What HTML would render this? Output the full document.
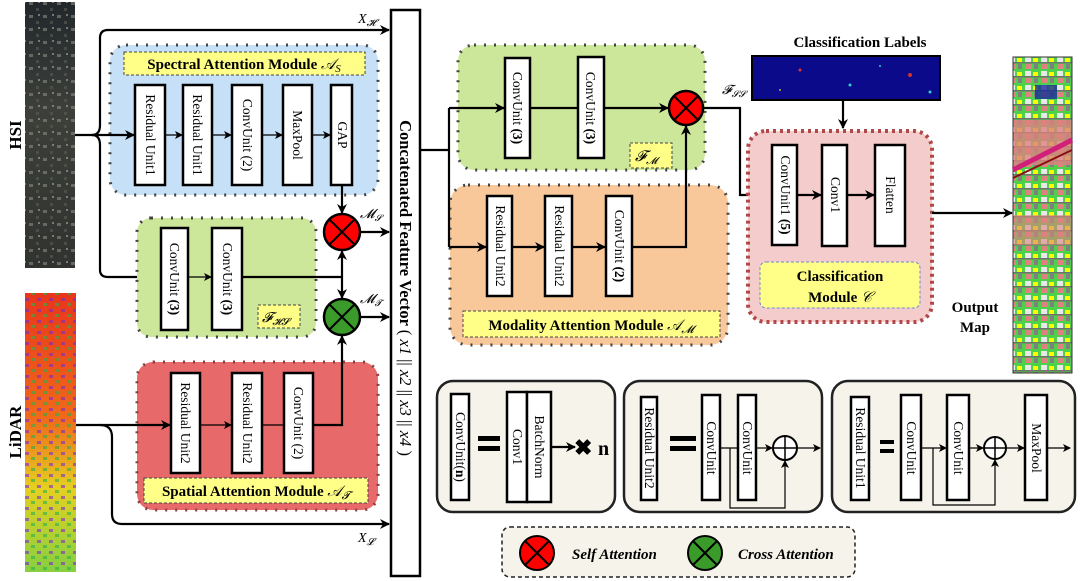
<!DOCTYPE html>
<html><head><meta charset="utf-8"><style>
html,body{margin:0;padding:0;background:#fff}
svg{display:block}
text{font-family:"Liberation Serif",serif}
.b{font-weight:bold}
.blk{fill:#fff;stroke:#000;stroke-width:2.5}
.ln{stroke:#000;stroke-width:2.2;fill:none}
.thin{stroke:#000;stroke-width:1.2;fill:none}
.vt{font-size:13.5px}
</style></head><body>
<svg width="1080" height="581" viewBox="0 0 1080 581" xmlns="http://www.w3.org/2000/svg">
<defs>
<marker id="a" markerWidth="10" markerHeight="10" refX="9" refY="5" orient="auto" markerUnits="userSpaceOnUse"><path d="M0,0 L10,5 L0,10 L3,5 z" fill="#000"/></marker>
<marker id="as" markerWidth="8" markerHeight="8" refX="7" refY="4" orient="auto" markerUnits="userSpaceOnUse"><path d="M0,0 L8,4 L0,8 L2,4 z" fill="#000"/></marker>
<linearGradient id="hsi" x1="0" y1="0" x2="0" y2="1"><stop offset="0" stop-color="#22272b"/><stop offset=".4" stop-color="#3c3f3a"/><stop offset="1" stop-color="#30332f"/></linearGradient>
<linearGradient id="lid" x1="0" y1="0" x2="0" y2="1"><stop offset="0" stop-color="#e8361c"/><stop offset=".45" stop-color="#f06a1a"/><stop offset=".7" stop-color="#e5d021"/><stop offset="1" stop-color="#86d040"/></linearGradient>
<pattern id="hp" width="14" height="13" patternUnits="userSpaceOnUse"><rect x="1" y="2" width="4" height="3" fill="#8a8a80"/><rect x="8" y="8" width="3" height="3" fill="#5a5d55"/><rect x="10" y="1" width="2" height="2" fill="#aaa"/></pattern>
<pattern id="lp" width="12" height="11" patternUnits="userSpaceOnUse"><rect x="1" y="1" width="4" height="3" fill="#7a2ad0" opacity=".6"/><rect x="7" y="6" width="4" height="3" fill="#2ab04a" opacity=".6"/></pattern>
<pattern id="op" width="16" height="14" patternUnits="userSpaceOnUse"><rect width="16" height="14" fill="#4fd04a"/><rect x="1" y="1" width="6" height="5" fill="#e8e8e8"/><rect x="9" y="2" width="5" height="4" fill="#ffff00"/><rect x="2" y="8" width="6" height="5" fill="#e08080"/><rect x="10" y="8" width="4" height="5" fill="#808080"/><rect x="0" y="6" width="16" height="1.5" fill="#707070"/></pattern>
</defs>

<!-- images -->
<rect x="25" y="2" width="50" height="266" fill="url(#hsi)"/>
<rect x="25" y="2" width="50" height="266" fill="url(#hp)" opacity=".6"/>
<rect x="25" y="293" width="51" height="279" fill="url(#lid)"/>
<rect x="25" y="293" width="51" height="279" fill="url(#lp)"/>
<text class="b" font-size="17" transform="translate(21,135) rotate(-90)" text-anchor="middle">HSI</text>
<text class="b" font-size="17" transform="translate(21,432) rotate(-90)" text-anchor="middle">LiDAR</text>

<!-- spectral module -->
<rect x="110" y="45" width="268" height="150" rx="16" fill="#c6e0f7" stroke="#444" stroke-width="3" stroke-dasharray="2,8"/>
<rect x="124" y="52" width="241" height="23" fill="#ffff88" stroke="#444" stroke-dasharray="3,2"/>
<text class="b" x="244" y="69" font-size="15" text-anchor="middle">Spectral Attention Module <tspan font-style="italic" font-weight="normal">𝒜<tspan font-size="11" dy="3">S</tspan></tspan></text>
<rect class="blk" x="135" y="85" width="30" height="100"/><text class="vt" transform="translate(146,135) rotate(90)" text-anchor="middle">Residual Unit1</text>
<rect class="blk" x="183" y="85" width="29" height="100"/><text class="vt" transform="translate(193,135) rotate(90)" text-anchor="middle">Residual Unit1</text>
<rect class="blk" x="232" y="85" width="30" height="100"/><text class="vt" transform="translate(243,135) rotate(90)" text-anchor="middle">ConvUnit (2)</text>
<rect class="blk" x="283" y="85" width="29" height="100"/><text class="vt" transform="translate(293,135) rotate(90)" text-anchor="middle">MaxPool</text>
<rect class="blk" x="331" y="85" width="21" height="100"/><text class="vt" transform="translate(338,135) rotate(90)" text-anchor="middle">GAP</text>
<line class="thin" x1="165" y1="135" x2="182" y2="135" marker-end="url(#as)"/>
<line class="thin" x1="212" y1="135" x2="231" y2="135" marker-end="url(#as)"/>
<line class="thin" x1="262" y1="135" x2="282" y2="135" marker-end="url(#as)"/>
<line class="thin" x1="312" y1="135" x2="330" y2="135" marker-end="url(#as)"/>

<!-- HSI arrows -->
<line class="ln" x1="75" y1="135" x2="134" y2="135" marker-end="url(#a)"/>
<path class="ln" d="M92,135 Q100,135 100,125 L100,38 Q100,30 108,30 L389,30" marker-end="url(#a)"/>
<path class="ln" d="M92,135 Q100,135 100,145 L100,270 Q100,277 108,277 L146,277" marker-end="url(#a)"/>
<text x="358" y="23" font-size="14" font-style="italic">X<tspan font-size="10" dy="3">𝓗</tspan></text>

<!-- green HS module -->
<rect x="137" y="218" width="179" height="119" rx="14" fill="#cce79a" stroke="#444" stroke-width="3" stroke-dasharray="2,8"/>
<rect class="blk" x="161" y="228" width="27" height="102"/><text class="vt" transform="translate(170,279) rotate(90)" text-anchor="middle">ConvUnit <tspan class="b">(3)</tspan></text>
<rect class="blk" x="212" y="228" width="30" height="102"/><text class="vt" transform="translate(223,279) rotate(90)" text-anchor="middle">ConvUnit <tspan class="b">(3)</tspan></text>
<line class="thin" x1="188" y1="277" x2="211" y2="277" marker-end="url(#as)"/>
<rect x="258" y="305" width="42" height="23" fill="#ffff88" stroke="#444" stroke-dasharray="3,2"/>
<text x="262" y="322" font-size="14" font-style="italic">𝓕<tspan font-size="10" dy="3">𝓗𝓢</tspan></text>
<path class="ln" d="M242,277 L342,277"/>
<line class="ln" x1="342" y1="277" x2="342" y2="251" marker-end="url(#a)"/>
<line class="ln" x1="342" y1="277" x2="342" y2="298" marker-end="url(#a)"/>
<line class="ln" x1="342" y1="185" x2="342" y2="213" marker-end="url(#a)"/>

<!-- circles -->
<circle cx="342" cy="232" r="18" fill="#f00" stroke="#000" stroke-width="2.5"/>
<path d="M329,219 L355,245 M355,219 L329,245" stroke="#000" stroke-width="2"/>
<circle cx="342" cy="317" r="18" fill="#3a9a2a" stroke="#000" stroke-width="2.5"/>
<path d="M329,304 L355,330 M355,304 L329,330" stroke="#000" stroke-width="2"/>
<line class="ln" x1="360" y1="232" x2="389" y2="232" marker-end="url(#a)"/>
<line class="ln" x1="360" y1="317" x2="389" y2="317" marker-end="url(#a)"/>
<text x="360" y="218" font-size="13" font-style="italic">𝓜<tspan font-size="9" dy="3">𝓢</tspan></text>
<text x="360" y="303" font-size="13" font-style="italic">𝓜<tspan font-size="9" dy="3">𝓣</tspan></text>

<!-- spatial module -->
<rect x="137" y="362" width="241" height="148" rx="16" fill="#e8696a" stroke="#8a4040" stroke-width="3" stroke-dasharray="2,8"/>
<rect class="blk" x="171" y="373" width="29" height="100"/><text class="vt" transform="translate(181,423) rotate(90)" text-anchor="middle">Residual Unit2</text>
<rect class="blk" x="232" y="373" width="30" height="100"/><text class="vt" transform="translate(243,423) rotate(90)" text-anchor="middle">Residual Unit2</text>
<rect class="blk" x="284" y="373" width="29" height="100"/><text class="vt" transform="translate(294,423) rotate(90)" text-anchor="middle">ConvUnit (2)</text>
<line class="thin" x1="200" y1="425" x2="231" y2="425" marker-end="url(#as)"/>
<line class="thin" x1="262" y1="425" x2="283" y2="425"/>
<path class="ln" d="M313,425 L342,425 L342,336" marker-end="url(#a)"/>
<rect x="144" y="478" width="224" height="25" fill="#ffff88" stroke="#444" stroke-dasharray="3,2"/>
<text class="b" x="256" y="496" font-size="15" text-anchor="middle">Spatial Attention Module <tspan font-style="italic" font-weight="normal">𝒜<tspan font-size="11" dy="3">𝓣</tspan></tspan></text>

<!-- LiDAR arrows -->
<line class="ln" x1="76" y1="425" x2="170" y2="425" marker-end="url(#a)"/>
<path class="ln" d="M100,425 Q112,425 112,437 L112,514 Q112,524 122,524 L389,524" marker-end="url(#a)"/>
<text x="358" y="542" font-size="14" font-style="italic">X<tspan font-size="10" dy="3">𝓛</tspan></text>

<!-- concat bar -->
<rect x="391" y="10" width="29" height="566" fill="#fff" stroke="#000" stroke-width="2.5"/>
<text class="b" font-size="16.5" transform="translate(400,288) rotate(90)" text-anchor="middle">Concatenated Feature Vector <tspan font-weight="normal">( <tspan font-style="italic">x1</tspan> || <tspan font-style="italic">x2</tspan> || <tspan font-style="italic">x3</tspan> || <tspan font-style="italic">x4</tspan> )</tspan></text>

<!-- modality modules -->
<rect x="458" y="45" width="247" height="125" rx="16" fill="#cce79a" stroke="#444" stroke-width="3" stroke-dasharray="2,8"/>
<rect x="450" y="185" width="278" height="160" rx="18" fill="#f9c89a" stroke="#444" stroke-width="3" stroke-dasharray="2,8"/>
<path class="ln" d="M421,150 L449,150 M449,108 L449,247"/>
<line class="ln" x1="449" y1="108" x2="504" y2="108" marker-end="url(#a)"/>
<line class="ln" x1="449" y1="247" x2="486" y2="247" marker-end="url(#a)"/>
<rect class="blk" x="505" y="58" width="25" height="100"/><text class="vt" transform="translate(513,108) rotate(90)" text-anchor="middle">ConvUnit <tspan class="b">(3)</tspan></text>
<rect class="blk" x="578" y="57" width="26" height="101"/><text class="vt" transform="translate(586,108) rotate(90)" text-anchor="middle">ConvUnit <tspan class="b">(3)</tspan></text>
<line class="ln" x1="530" y1="108" x2="577" y2="108"/>
<line class="ln" x1="604" y1="108" x2="668" y2="108" marker-end="url(#a)"/>
<circle cx="686" cy="108" r="17" fill="#f00" stroke="#000" stroke-width="2.5"/>
<path d="M674,96 L698,120 M698,96 L674,120" stroke="#000" stroke-width="2"/>
<rect x="630" y="143" width="42" height="25" fill="#ffff88" stroke="#444" stroke-dasharray="3,2"/>
<text x="635" y="161" font-size="15" font-style="italic">𝓕<tspan font-size="10" dy="3">𝓜</tspan></text>
<rect class="blk" x="487" y="196" width="25" height="100"/><text class="vt" transform="translate(496,246) rotate(90)" text-anchor="middle">Residual Unit2</text>
<rect class="blk" x="545" y="196" width="27" height="100"/><text class="vt" transform="translate(555,246) rotate(90)" text-anchor="middle">Residual Unit2</text>
<rect class="blk" x="606" y="196" width="26" height="100"/><text class="vt" transform="translate(615,246) rotate(90)" text-anchor="middle">ConvUnit <tspan class="b">(2)</tspan></text>
<line class="ln" x1="512" y1="247" x2="544" y2="247" marker-end="url(#a)"/>
<line class="ln" x1="572" y1="247" x2="605" y2="247" marker-end="url(#a)"/>
<path class="ln" d="M632,247 L686,247 L686,126" marker-end="url(#a)"/>
<rect x="463" y="311" width="257" height="26" fill="#ffff88" stroke="#444" stroke-dasharray="3,2"/>
<text class="b" x="591" y="330" font-size="15" text-anchor="middle">Modality Attention Module <tspan font-style="italic" font-weight="normal">𝒜<tspan font-size="11" dy="3">𝓜</tspan></tspan></text>

<text x="722" y="94" font-size="13" font-style="italic">𝓕<tspan font-size="9" dy="3">𝓢𝓢</tspan></text>
<path class="ln" d="M703,108 L740,108 L740,195 L771,195" marker-end="url(#a)"/>

<!-- classification -->
<text class="b" x="860" y="47" font-size="15" text-anchor="middle">Classification Labels</text>
<rect x="752" y="56" width="188" height="44" fill="#0a0a8a" stroke="#000" stroke-width="2"/>
<circle cx="800" cy="70" r="1.5" fill="#d33"/><circle cx="850" cy="85" r="1.5" fill="#3cc"/><circle cx="910" cy="75" r="2" fill="#c33"/><circle cx="930" cy="92" r="1.5" fill="#3cc"/><circle cx="780" cy="90" r="1" fill="#aa4"/><circle cx="880" cy="66" r="1" fill="#3cc"/>
<line class="ln" x1="843" y1="100" x2="843" y2="128" marker-end="url(#a)"/>
<rect x="748" y="131" width="184" height="191" rx="18" fill="#f5cccc" stroke="#b04848" stroke-width="4" stroke-dasharray="3,4"/>
<rect class="blk" x="772" y="145" width="25" height="100"/><text class="vt" transform="translate(781,195) rotate(90)" text-anchor="middle">ConvUnit1 <tspan class="b">(5)</tspan></text>
<rect class="blk" x="822" y="145" width="25" height="101"/><text class="vt" transform="translate(831,195) rotate(90)" text-anchor="middle">Conv1</text>
<rect class="blk" x="875" y="145" width="30" height="101"/><text class="vt" transform="translate(886,195) rotate(90)" text-anchor="middle">Flatten</text>
<line class="ln" x1="797" y1="195" x2="821" y2="195" marker-end="url(#a)"/>
<line class="ln" x1="847" y1="195" x2="874" y2="195" marker-end="url(#a)"/>
<rect x="760" y="262" width="160" height="46" rx="6" fill="#ffff88" stroke="#6a8ad0" stroke-dasharray="3,2"/>
<text class="b" x="840" y="281" font-size="15" text-anchor="middle">Classification</text>
<text class="b" x="840" y="302" font-size="15" text-anchor="middle">Module <tspan font-style="italic" font-weight="normal">𝒞</tspan></text>
<line class="ln" x1="932" y1="213" x2="1012" y2="213" marker-end="url(#a)"/>
<text class="b" x="975" y="312" font-size="15" text-anchor="middle">Output</text>
<text class="b" x="975" y="332" font-size="15" text-anchor="middle">Map</text>
<rect x="1013" y="57" width="59" height="316" fill="url(#op)" stroke="#333"/>
<rect x="1014" y="120" width="57" height="45" fill="#e08080" opacity=".8"/>
<rect x="1014" y="215" width="57" height="30" fill="#e08080" opacity=".6"/>
<path d="M1013,170 L1072,140" stroke="#d0207a" stroke-width="5"/><path d="M1013,178 L1072,150" stroke="#8a1010" stroke-width="2"/>
<rect x="1035" y="85" width="22" height="14" fill="#1a2a9a" opacity=".8"/>

<!-- bottom legend boxes -->
<rect x="437" y="381" width="178" height="131" rx="16" fill="#f5f3ea" stroke="#222" stroke-width="2.5"/>
<rect class="blk" x="451" y="394" width="18" height="106" stroke-width="2"/><text class="vt" transform="translate(456,447) rotate(90)" text-anchor="middle">ConvUnit(<tspan class="b">n</tspan>)</text>
<rect x="478" y="436" width="22" height="5" fill="#000"/><rect x="478" y="446" width="22" height="5" fill="#000"/>
<rect class="blk" x="507" y="392" width="20" height="110" stroke-width="2"/><text class="vt" transform="translate(513,447) rotate(90)" text-anchor="middle">Conv1</text>
<rect class="blk" x="527" y="392" width="24" height="110" stroke-width="2"/><text class="vt" transform="translate(535,447) rotate(90)" text-anchor="middle">BatchNorm</text>
<line class="ln" x1="551" y1="447" x2="575" y2="447" marker-end="url(#a)"/>
<text class="b" x="574" y="455" font-size="22">✖</text><text class="b" x="598" y="455" font-size="20">n</text>

<rect x="624" y="381" width="198" height="131" rx="16" fill="#f5f3ea" stroke="#222" stroke-width="2.5"/>
<rect class="blk" x="641" y="397" width="16" height="103" stroke-width="2"/><text class="vt" transform="translate(645,448) rotate(90)" text-anchor="middle">Residual Unit2</text>
<rect x="670" y="436" width="26" height="5" fill="#000"/><rect x="670" y="446" width="26" height="5" fill="#000"/>
<rect class="blk" x="702" y="395" width="18" height="105" stroke-width="2"/><text class="vt" transform="translate(707,448) rotate(90)" text-anchor="middle">ConvUnit</text>
<rect class="blk" x="738" y="395" width="18" height="105" stroke-width="2"/><text class="vt" transform="translate(743,448) rotate(90)" text-anchor="middle">ConvUnit</text>
<line class="thin" x1="720" y1="448" x2="737" y2="448"/>
<line class="thin" x1="756" y1="448" x2="772" y2="448" marker-end="url(#as)"/>
<circle cx="785" cy="448" r="12" fill="#fff" stroke="#000" stroke-width="2"/><path d="M773,448 L797,448 M785,436 L785,460" stroke="#000" stroke-width="1.5"/>
<path class="thin" d="M730,448 L730,508 L785,508 L785,461" marker-end="url(#as)"/>
<line class="thin" x1="797" y1="448" x2="820" y2="448" marker-end="url(#as)"/>

<rect x="832" y="381" width="243" height="131" rx="16" fill="#f5f3ea" stroke="#222" stroke-width="2.5"/>
<rect class="blk" x="851" y="397" width="18" height="103" stroke-width="2"/><text class="vt" transform="translate(856,448) rotate(90)" text-anchor="middle">Residual Unit1</text>
<rect x="880" y="440" width="14" height="4" fill="#000"/><rect x="880" y="449" width="14" height="4" fill="#000"/>
<rect class="blk" x="901" y="395" width="20" height="105" stroke-width="2"/><text class="vt" transform="translate(907,448) rotate(90)" text-anchor="middle">ConvUnit</text>
<rect class="blk" x="947" y="395" width="22" height="105" stroke-width="2"/><text class="vt" transform="translate(954,448) rotate(90)" text-anchor="middle">ConvUnit</text>
<line class="thin" x1="921" y1="448" x2="946" y2="448" marker-end="url(#as)"/>
<line class="thin" x1="969" y1="448" x2="983" y2="448" marker-end="url(#as)"/>
<circle cx="995" cy="448" r="11" fill="#fff" stroke="#000" stroke-width="2"/><path d="M984,448 L1006,448 M995,437 L995,459" stroke="#000" stroke-width="1.5"/>
<path class="thin" d="M933,448 L933,505 L995,505 L995,460" marker-end="url(#as)"/>
<line class="thin" x1="1006" y1="448" x2="1024" y2="448" marker-end="url(#as)"/>
<rect class="blk" x="1025" y="395" width="22" height="105" stroke-width="2"/><text class="vt" transform="translate(1032,448) rotate(90)" text-anchor="middle">MaxPool</text>
<line class="thin" x1="1047" y1="448" x2="1070" y2="448" marker-end="url(#as)"/>

<rect x="502" y="527" width="353" height="50" rx="8" fill="#f5f3ea" stroke="#222" stroke-width="1.5" stroke-dasharray="4,3"/>
<circle cx="537" cy="553" r="17" fill="#f00" stroke="#000" stroke-width="2"/><path d="M525,541 L549,565 M549,541 L525,565" stroke="#000" stroke-width="2"/>
<text class="b" x="572" y="559" font-size="15" font-style="italic">Self Attention</text>
<circle cx="705" cy="553" r="17" fill="#3a9a2a" stroke="#000" stroke-width="2"/><path d="M693,541 L717,565 M717,541 L693,565" stroke="#000" stroke-width="2"/>
<text class="b" x="738" y="559" font-size="15" font-style="italic">Cross Attention</text>
</svg>
</body></html>
